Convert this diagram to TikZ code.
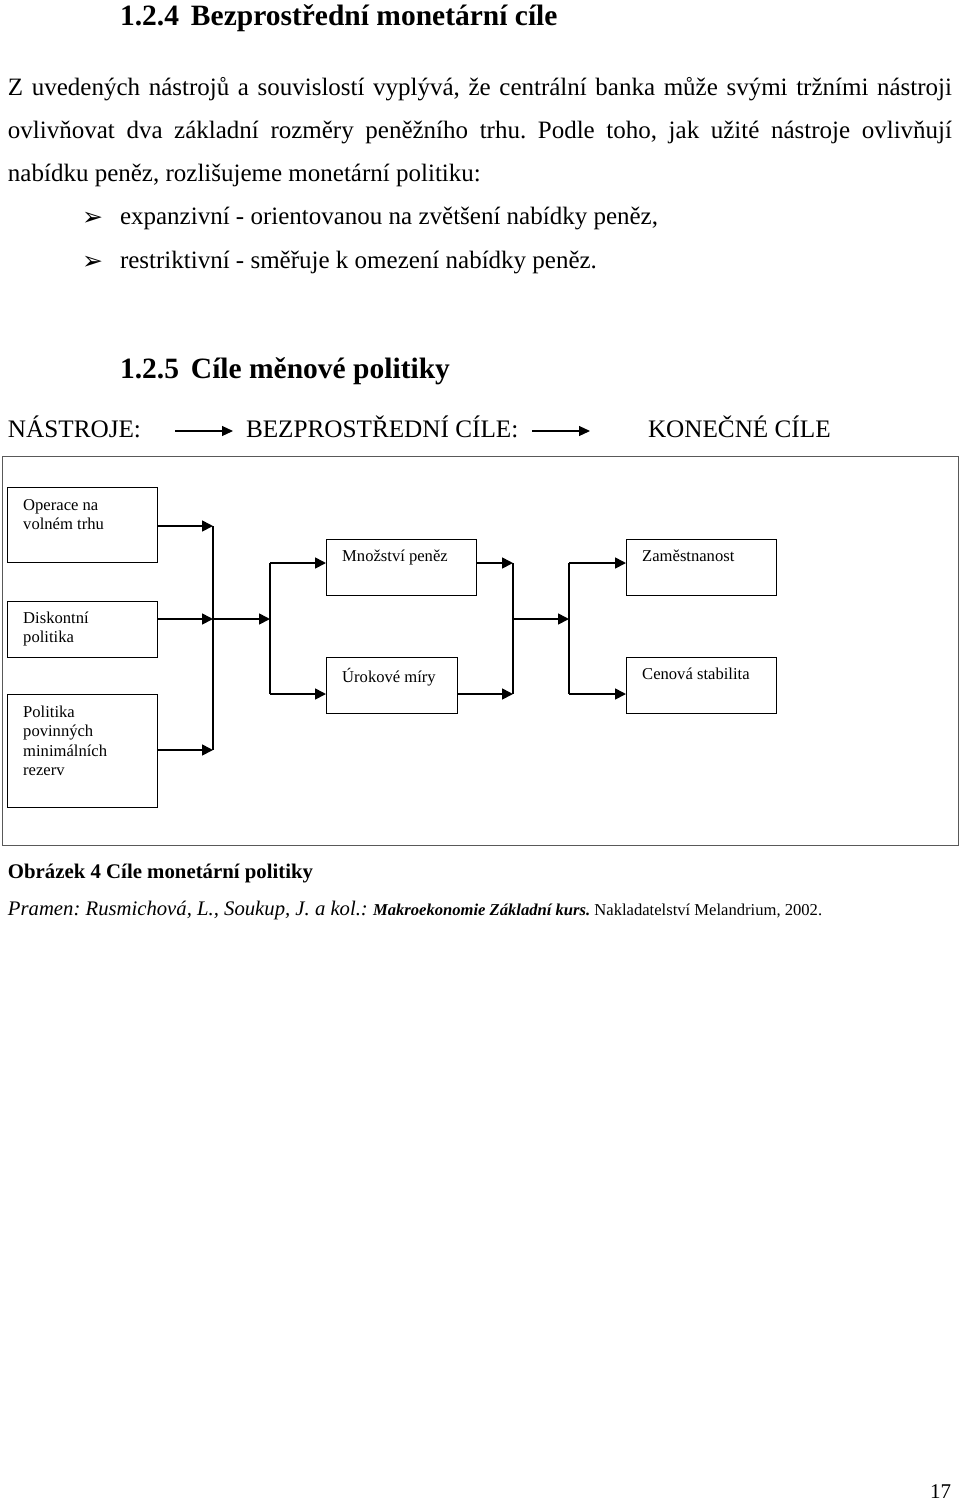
\documentclass[tikz,border=0pt]{standalone}
\usepackage{fontspec}
\setmainfont{Liberation Serif}
\newfontfamily\dejavu{DejaVu Sans}
\usetikzlibrary{arrows.meta}
\frenchspacing
\begin{document}
\begin{tikzpicture}[x=1pt,y=-1pt,
  txt/.style={anchor=base west,inner sep=0pt,outer sep=0pt},
  body/.style={txt,font=\fontsize{25}{30}\selectfont},
  head/.style={txt,font=\fontsize{29.5}{34}\selectfont\bfseries},
  row/.style={txt,font=\fontsize{25.2}{30}\selectfont},
  box/.style={draw=black,line width=1.4pt,anchor=north west,inner sep=0pt},
  boxtext/.style={anchor=north west,inner sep=0pt,align=left,font=\fontsize{16.6}{19.2}\selectfont},
  arr/.style={line width=1.7pt,-{Triangle[length=11pt,width=11pt]}},
  ln/.style={line width=1.7pt},
  rowarr/.style={line width=1.2pt,-{Triangle[length=11pt,width=10pt]}},
  bul/.style={txt,font=\dejavu\fontsize{25}{28}\selectfont}
]
\useasboundingbox (0,0) rectangle (960,1500);
\fill[white] (0,0) rectangle (960,1500);

% headings and text
\node[head] (h124) at (120,25) {1.2.4\hspace{12pt}Bezprostřední monetární cíle};
\node[body] (p1) at (8,95) {\makebox[944pt][s]{Z uvedených nástrojů a souvislostí vyplývá, že centrální banka může svými tržními nástroji}};
\node[body] (p2) at (8,138) {\makebox[944pt][s]{ovlivňovat dva základní rozměry peněžního trhu. Podle toho, jak užité nástroje ovlivňují}};
\node[body] (p3) at (8,181) {nabídku peněz, rozlišujeme monetární politiku:};
\node[bul] (b1) at (82,225) {➢};
\node[body] (p4) at (120,224) {expanzivní - orientovanou na zvětšení nabídky peněz,};
\node[bul] (b2) at (82,269) {➢};
\node[body] (p5) at (120,268) {restriktivní - směřuje k omezení nabídky peněz.};
\node[head] (h125) at (120,378) {1.2.5\hspace{12pt}Cíle měnové politiky};

% row
\node[row] (nas) at (8,437) {NÁSTROJE:};
\node[row] (bez) at (246,437) {BEZPROSTŘEDNÍ CÍLE:};
\node[row] (kon) at (648,437) {KONEČNÉ CÍLE};
\coordinate (ra1) at (175,431);
\coordinate (ra2) at (233,431);
\coordinate (rb1) at (532,431);
\coordinate (rb2) at (590,431);
\draw[rowarr] (ra1) -- (ra2);
\draw[rowarr] (rb1) -- (rb2);

% frame
\node[draw=black!65,line width=1.2pt,anchor=north west,inner sep=0pt,minimum width=956pt,minimum height=389pt] (frame) at (2,456) {};

% boxes
\node[box,minimum width=150pt,minimum height=75pt] (op) at (7,487) {};
\node[boxtext] (opt) at (23,499) {Operace na\\volném trhu};
\node[box,minimum width=150pt,minimum height=56pt] (dis) at (7,601) {};
\node[boxtext] (dist) at (23,612) {Diskontní\\politika};
\node[box,minimum width=150pt,minimum height=113pt] (pol) at (7,694) {};
\node[boxtext] (polt) at (23,706) {Politika\\povinných\\minimálních\\rezerv};

\node[box,minimum width=150pt,minimum height=56pt] (mn) at (326,539) {};
\node[boxtext] (mnt) at (342,550) {Množství peněz};
\node[box,minimum width=131pt,minimum height=56pt] (ur) at (326,657) {};
\node[boxtext] (urt) at (342,668) {Úrokové míry};

\node[box,minimum width=150pt,minimum height=56pt] (za) at (626,539) {};
\node[boxtext] (zat) at (642,550) {Zaměstnanost};
\node[box,minimum width=150pt,minimum height=56pt] (ce) at (626,657) {};
\node[boxtext] (cet) at (642,668) {Cenová stabilita};

% connectors
\coordinate (a1) at (213,526);
\coordinate (a2) at (213,619);
\coordinate (a3) at (213,750);
\coordinate (b0) at (270,619);
\coordinate (b1t) at (270,563);
\coordinate (b2t) at (270,694);
\draw[arr] (op.east |- a1) -- (a1);
\draw[arr] (dis.east |- a2) -- (a2);
\draw[arr] (pol.east |- a3) -- (a3);
\draw[ln] (a1) -- (a3);
\draw[arr] (a2) -- (b0);
\draw[ln] (b1t) -- (b2t);
\draw[arr] (b1t) -- (mn.west |- b1t);
\draw[arr] (b2t) -- (ur.west |- b2t);

\coordinate (c1) at (513,563);
\coordinate (c2) at (513,694);
\coordinate (c0) at (513,619);
\coordinate (d0) at (569,619);
\coordinate (d1) at (569,563);
\coordinate (d2) at (569,694);
\draw[arr] (mn.east |- c1) -- (c1);
\draw[arr] (ur.east |- c2) -- (c2);
\draw[ln] (c1) -- (c2);
\draw[arr] (c0) -- (d0);
\draw[ln] (d1) -- (d2);
\draw[arr] (d1) -- (za.west |- d1);
\draw[arr] (d2) -- (ce.west |- d2);

% caption
\node[txt,font=\fontsize{20.8}{24}\selectfont\bfseries] (cap) at (8,878) {Obrázek 4 Cíle monetární politiky};
\node[txt,font=\fontsize{20.7}{24}\selectfont] (src) at (8,915) {\textit{Pramen: Rusmichová, L., Soukup, J. a kol.:} {\fontsize{16.6}{19}\selectfont\textbf{\textit{Makroekonomie Základní kurs.}} Nakladatelství Melandrium, 2002.}};

\node[txt,font=\fontsize{21}{24}\selectfont] (pg) at (930,1498) {17};
\end{tikzpicture}
\end{document}
